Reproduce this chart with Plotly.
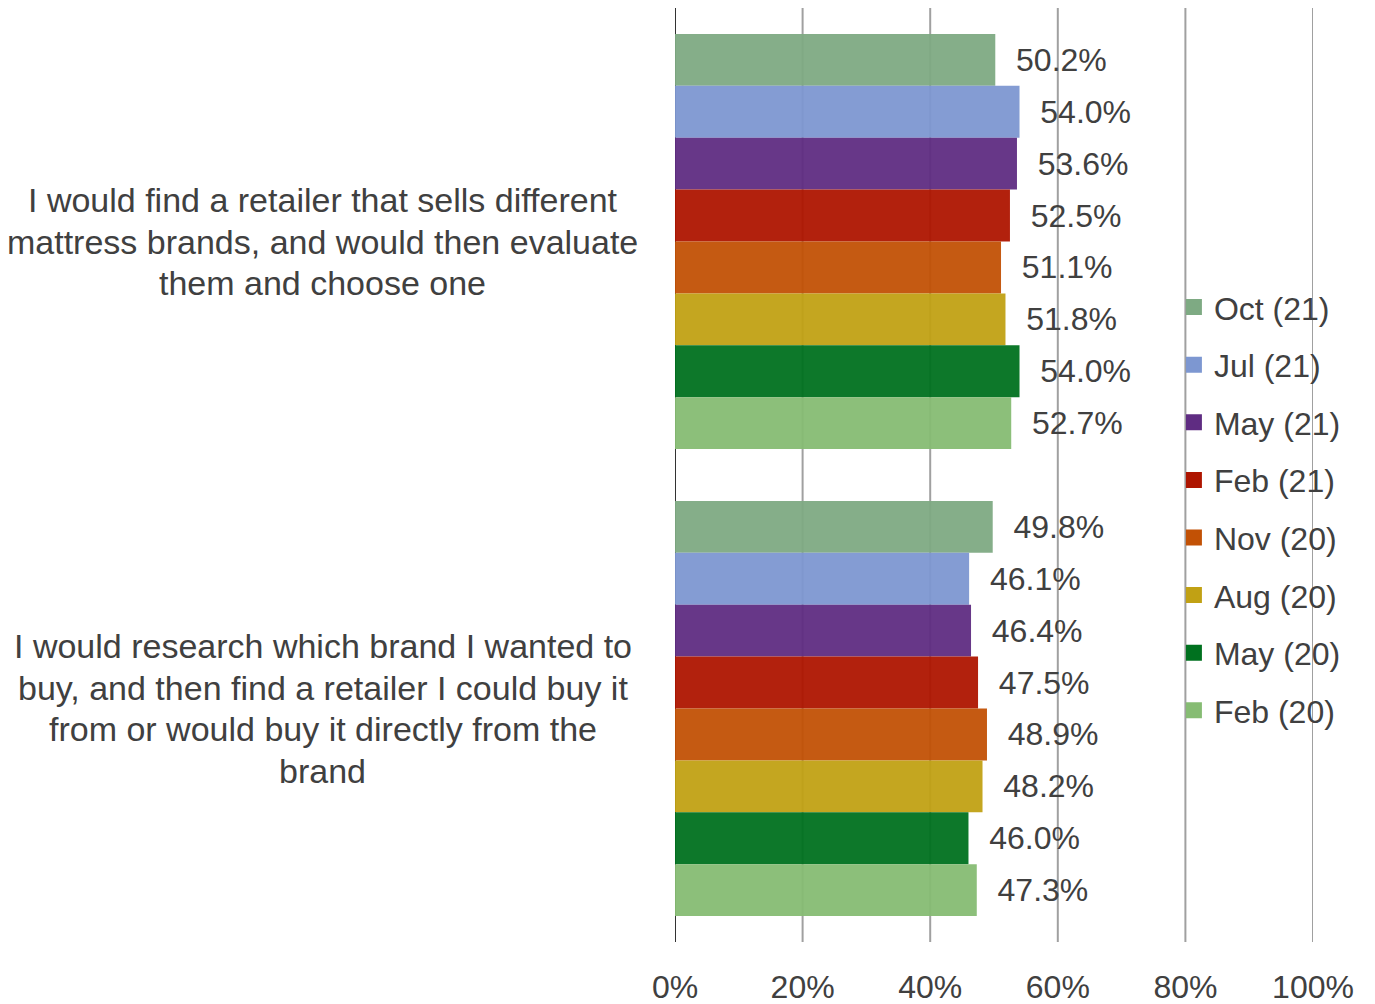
import plotly.graph_objects as go

# Survey statements (top to bottom), one entry per text line
statement_lines = [
    ["I would find a retailer that sells different",
     "mattress brands, and would then evaluate",
     "them and choose one"],
    ["I would research which brand I wanted to",
     "buy, and then find a retailer I could buy it",
     "from or would buy it directly from the",
     "brand"],
]
statements = [" ".join(lines) for lines in statement_lines]

# Survey waves, newest first
waves = ["Oct (21)", "Jul (21)", "May (21)", "Feb (21)", "Nov (20)", "Aug (20)", "May (20)", "Feb (20)"]
colors = ["#7EAA83", "#7D97D1", "#5F2C82", "#AE1500", "#C25105", "#C1A114", "#00711F", "#86BC73"]

# Share of respondents per wave (%), [retailer-first, brand-first]
oct21 = [50.2, 49.8]
jul21 = [54.0, 46.1]
may21 = [53.6, 46.4]
feb21 = [52.5, 47.5]
nov20 = [51.1, 48.9]
aug20 = [51.8, 48.2]
may20 = [54.0, 46.0]
feb20 = [52.7, 47.3]
series = [oct21, jul21, may21, feb21, nov20, aug20, may20, feb20]

tick_vals = [0, 20, 40, 60, 80, 100]
tick_text = [f"{v}%" for v in tick_vals]

TEXT = "#404040"
FONT = "Liberation Sans, Arial, sans-serif"
LINE_STEP = 41.5  # px between statement text lines

fig = go.Figure()
for name, vals, col in zip(waves, series, colors):
    fig.add_trace(go.Bar(
        y=statements,
        x=vals,
        orientation="h",
        name=name,
        showlegend=False,
        marker=dict(color=col, opacity=0.95, line=dict(width=0)),
        text=[f"\u00a0\u00a0{v:.1f}%" for v in vals],
        textposition="outside",
        constraintext="none",
        cliponaxis=False,
        textfont=dict(size=32, color=TEXT, family=FONT),
        hoverinfo="skip",
    ))
    # legend entry with a larger square swatch
    fig.add_trace(go.Scatter(
        x=[None], y=[None], mode="markers", name=name, legendgroup=name,
        marker=dict(symbol="square", size=16, color=col, line=dict(width=0)),
        showlegend=True, hoverinfo="skip",
    ))

# Vertical grid behind the bars
for v in tick_vals:
    fig.add_shape(
        type="line", xref="x", yref="paper",
        x0=v, x1=v, y0=0, y1=1,
        line=dict(color="#333333" if v == 0 else "#A0A0A0", width=2),
        layer="below",
    )

# Centered statement labels to the left of the plot
for s, lines in zip(statements, statement_lines):
    n = len(lines)
    for j, line in enumerate(lines):
        fig.add_annotation(
            x=-0.552, xref="paper", y=s, yref="y",
            yshift=((n - 1) / 2 - j) * LINE_STEP,
            text=line, showarrow=False, xanchor="center", yanchor="middle",
            align="center", font=dict(size=34, color=TEXT, family=FONT),
        )

fig.update_layout(
    width=1375, height=1004,
    margin=dict(l=675, r=62, t=8, b=62, autoexpand=False),
    paper_bgcolor="white", plot_bgcolor="white",
    barmode="group", bargap=0.111, bargroupgap=0,
    font=dict(family=FONT, color=TEXT),
    showlegend=True,
    legend=dict(
        x=0.782, y=0.709, xanchor="left", yanchor="top",
        bgcolor="rgba(0,0,0,0)",
        font=dict(size=32, color=TEXT, family=FONT),
        traceorder="grouped", tracegroupgap=13,
        itemwidth=30,
    ),
    xaxis=dict(
        range=[0, 100], tickvals=tick_vals, ticktext=tick_text,
        showgrid=False, zeroline=False, showline=False,
        tickfont=dict(size=32, color=TEXT, family=FONT),
        ticks="", ticklabelstandoff=23, automargin=False,
    ),
    yaxis=dict(
        autorange="reversed", showticklabels=False, showgrid=False,
        zeroline=False, showline=False, ticks="", automargin=False,
    ),
)

fig.write_html("out.html")
